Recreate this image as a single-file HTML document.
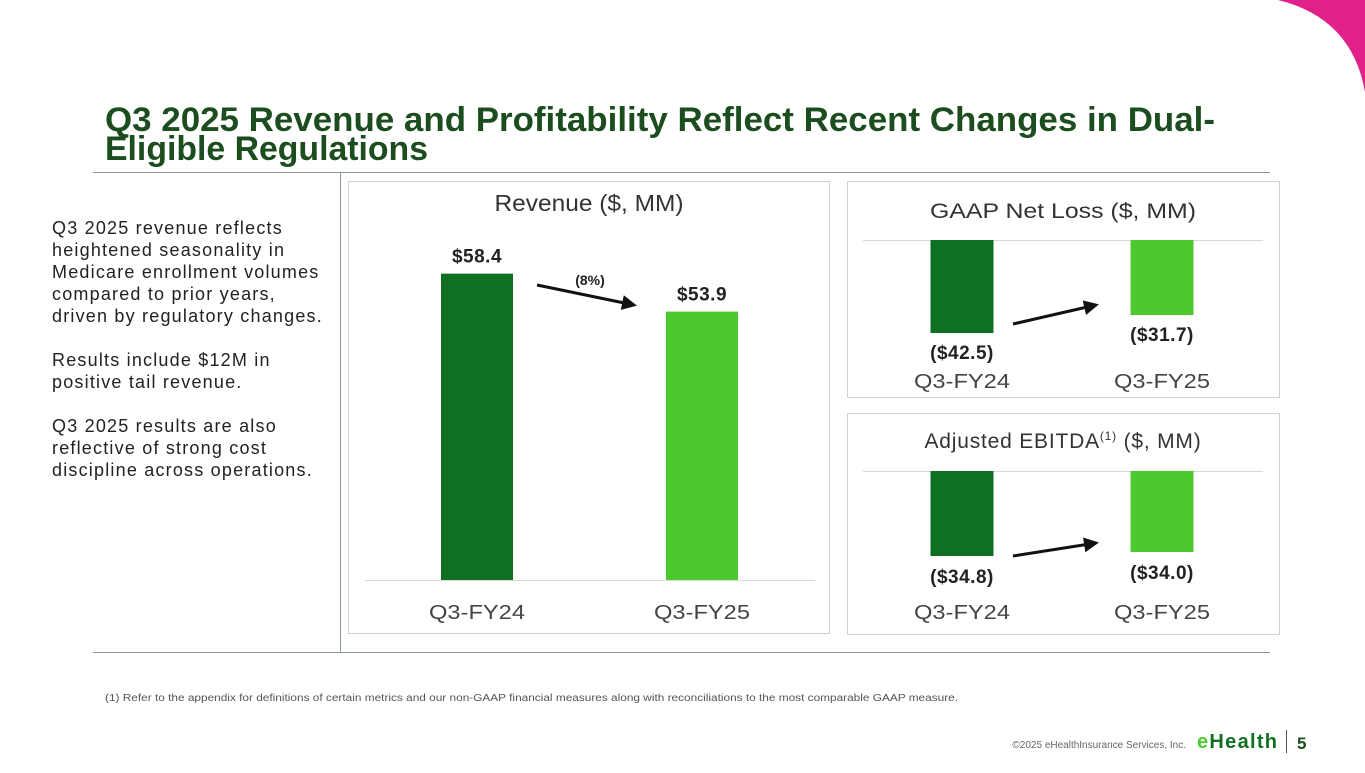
<!DOCTYPE html>
<html><head><meta charset="utf-8"><style>
body{margin:0;width:1365px;height:768px;overflow:hidden;background:#fff;font-family:"Liberation Sans",sans-serif}
</style></head><body>
<svg width="1365" height="768" viewBox="0 0 1365 768" xmlns="http://www.w3.org/2000/svg" font-family="Liberation Sans, sans-serif">
<path d="M1278,0 Q1352,18 1365,92 L1365,0 Z" fill="#e0218a"/>
<g fill="#1b4d1e" font-weight="bold" font-size="34">
<text x="105" y="131" textLength="1110" lengthAdjust="spacingAndGlyphs">Q3 2025 Revenue and Profitability Reflect Recent Changes in Dual-</text>
<text x="105" y="160" textLength="323" lengthAdjust="spacingAndGlyphs">Eligible Regulations</text>
</g>
<line x1="93" y1="172.5" x2="1270" y2="172.5" stroke="#8a9a8a" stroke-width="1"/>
<line x1="340.5" y1="172" x2="340.5" y2="652" stroke="#8a9a8a" stroke-width="1"/>
<line x1="93" y1="652.5" x2="1270" y2="652.5" stroke="#8a9a8a" stroke-width="1"/>
<g fill="#222" font-size="18" letter-spacing="1.2">
<text x="52" y="234">Q3 2025 revenue reflects</text>
<text x="52" y="256">heightened seasonality in</text>
<text x="52" y="278">Medicare enrollment volumes</text>
<text x="52" y="300">compared to prior years,</text>
<text x="52" y="322">driven by regulatory changes.</text>
<text x="52" y="366">Results include $12M in</text>
<text x="52" y="388">positive tail revenue.</text>
<text x="52" y="432">Q3 2025 results are also</text>
<text x="52" y="454">reflective of strong cost</text>
<text x="52" y="476">discipline across operations.</text>
</g>
<rect x="348.5" y="181.5" width="481" height="452" fill="#fff" stroke="#d0d0d0"/>
<rect x="847.5" y="181.5" width="432" height="216" fill="#fff" stroke="#d0d0d0"/>
<rect x="847.5" y="413.5" width="432" height="221" fill="#fff" stroke="#d0d0d0"/>
<g fill="#333" text-anchor="middle">
<text x="589" y="211" font-size="23" textLength="189" lengthAdjust="spacingAndGlyphs">Revenue ($, MM)</text>
<text x="1063" y="218" font-size="21" textLength="266" lengthAdjust="spacingAndGlyphs">GAAP Net Loss ($, MM)</text>
<text x="1063" y="448" font-size="21" letter-spacing="0.8">Adjusted EBITDA<tspan font-size="12" dy="-8">(1)</tspan><tspan dy="8"> ($, MM)</tspan></text>
</g>
<g id="charts"></g>
<defs><marker id="ah" viewBox="0 0 10 10" refX="8" refY="5" markerWidth="5" markerHeight="5" orient="auto"><path d="M0,0 L10,5 L0,10 Z" fill="#111"/></marker></defs>
<line x1="537" y1="285" x2="634" y2="305" stroke="#111" stroke-width="3" marker-end="url(#ah)"/>
<text x="590" y="285" font-size="14" font-weight="bold" fill="#222" text-anchor="middle">(8%)</text>
<line x1="1013" y1="324" x2="1096" y2="305" stroke="#111" stroke-width="3" marker-end="url(#ah)"/>
<line x1="1013" y1="556" x2="1096" y2="543" stroke="#111" stroke-width="3" marker-end="url(#ah)"/>
<text x="105" y="701" font-size="10" fill="#555" textLength="853" lengthAdjust="spacingAndGlyphs">(1)    Refer to the appendix for definitions of certain metrics and our non-GAAP financial measures along with reconciliations to the most comparable GAAP measure.</text>
<text x="1186" y="748" font-size="10" fill="#666" text-anchor="end">©2025 eHealthInsurance Services, Inc.</text>
<text x="1197" y="748" font-size="20" font-weight="bold" fill="#0e7020" textLength="80"><tspan fill="#4cc92c">e</tspan>Health</text>
<line x1="1286.5" y1="730" x2="1286.5" y2="753" stroke="#555"/>
<text x="1297" y="749" font-size="17" font-weight="bold" fill="#1b4d1e">5</text>
</svg>
<script>
const categories=["Q3-FY24","Q3-FY25"];
const revenueValues=[58.4,53.9];
const netLossValues=[-42.5,-31.7];
const ebitdaValues=[-34.8,-34.0];
const revenueLabels=["$58.4","$53.9"];
const netLossLabels=["($42.5)","($31.7)"];
const ebitdaLabels=["($34.8)","($34.0)"];
const colors=["#0e7020","#4cc92c"];
const NS="http://www.w3.org/2000/svg";
const g=document.getElementById('charts');
function mk(t,a){const e=document.createElementNS(NS,t);for(const k in a)e.setAttribute(k,a[k]);g.appendChild(e);return e;}
function chart(cfg){
  const base=mk('line',{x1:cfg.x0,x2:cfg.x1,y1:cfg.base+0.5,y2:cfg.base+0.5,stroke:'#d8d8d8'});
  
  
  cfg.values.forEach((v,i)=>{
    const h=cfg.k*(Math.abs(v)-cfg.v0);
    const cx=cfg.cx[i];
    const y=v>=0?cfg.base-h:cfg.base;
    const r=mk('rect',{x:cx-cfg.bw/2,y:y,width:cfg.bw,height:h,fill:colors[i]});
    
    
    const ly=v>=0?y-11:y+h+(cfg.lblOff||25);
    const t=mk('text',{x:cx,y:ly,'text-anchor':'middle','font-size':19,'font-weight':'bold',fill:'#222','letter-spacing':0.5});
    t.textContent=cfg.labels[i];
    
    
    const c=mk('text',{x:cx,y:cfg.catY,'text-anchor':'middle','font-size':20,fill:'#444',textLength:96,lengthAdjust:'spacingAndGlyphs'});
    c.textContent=categories[i];
    
    
  });
}
chart({name:'revenue',values:revenueValues,labels:revenueLabels,base:580,x0:365,x1:815,cx:[477,702],bw:72,k:8.44,v0:22.1,catY:619});
chart({name:'net-loss',values:netLossValues,labels:netLossLabels,base:240,x0:863,x1:1263,cx:[962,1162],bw:63,k:1.667,v0:-13.3,catY:388,lblOff:26});
chart({name:'ebitda',values:ebitdaValues,labels:ebitdaLabels,base:471,x0:863,x1:1263,cx:[962,1162],bw:63,k:5,v0:17.8,catY:619,lblOff:27});
</script>
</body></html>
